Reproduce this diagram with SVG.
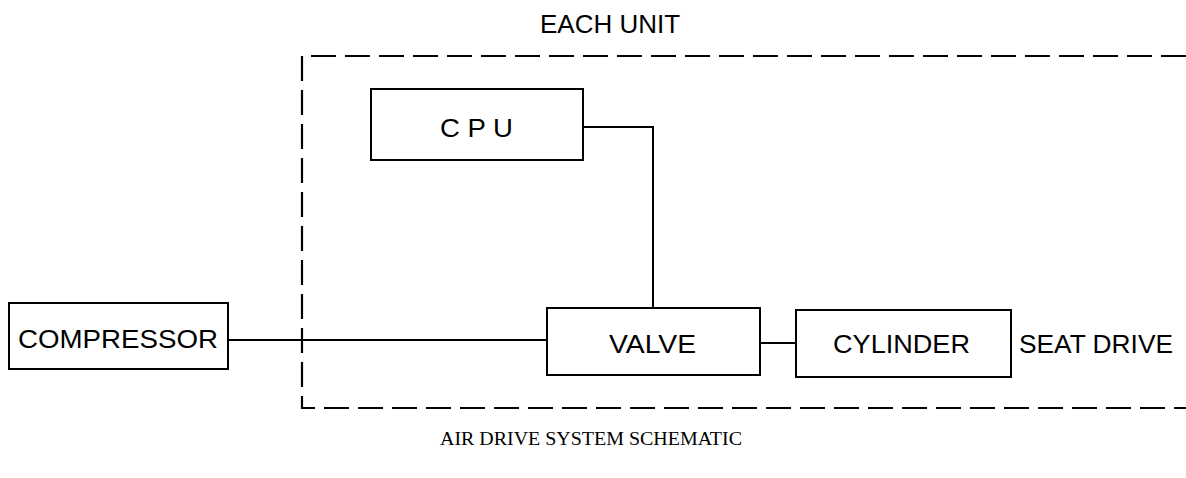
<svg xmlns="http://www.w3.org/2000/svg" width="1186" height="478" viewBox="0 0 1186 478">
<style>
.box{fill:#fff;stroke:#000;stroke-width:2}
.ln{fill:none;stroke:#000;stroke-width:2}
.dash{fill:none;stroke:#000;stroke-width:2.2;stroke-dasharray:25 9}
.t{font-family:"Liberation Sans",Arial,sans-serif;font-size:26px;fill:#000}
.cap{font-family:"Liberation Serif","Times New Roman",serif;font-size:18px;fill:#000}
</style>
<rect width="1186" height="478" fill="#fff"/>
<g id="unit-boundary">
<path class="dash" d="M1186 56 H302 V408 H1186"/>
<text class="t" x="540" y="33" textLength="140" lengthAdjust="spacingAndGlyphs">EACH UNIT</text>
</g>
<g id="connectors">
<path class="ln" d="M228 340 H547"/>
<path class="ln" d="M583 127 H653 V308"/>
<path class="ln" d="M760 343 H796"/>
</g>
<g id="compressor">
<rect class="box" x="9" y="303" width="219" height="66"/>
<text class="t" x="18" y="348" textLength="200" lengthAdjust="spacingAndGlyphs">COMPRESSOR</text>
</g>
<g id="cpu">
<rect class="box" x="371" y="89" width="212" height="71"/>
<text class="t" x="440" y="137" textLength="73" lengthAdjust="spacingAndGlyphs">C P U</text>
</g>
<g id="valve">
<rect class="box" x="547" y="308" width="213" height="67"/>
<text class="t" x="609" y="353" textLength="87" lengthAdjust="spacingAndGlyphs">VALVE</text>
</g>
<g id="cylinder">
<rect class="box" x="796" y="310" width="215" height="67"/>
<text class="t" x="833" y="353" textLength="137" lengthAdjust="spacingAndGlyphs">CYLINDER</text>
</g>
<g id="seat-drive">
<text class="t" x="1019" y="353" textLength="154" lengthAdjust="spacingAndGlyphs">SEAT DRIVE</text>
</g>
<text class="cap" x="440" y="445" textLength="302" lengthAdjust="spacingAndGlyphs">AIR DRIVE SYSTEM SCHEMATIC</text>
</svg>
